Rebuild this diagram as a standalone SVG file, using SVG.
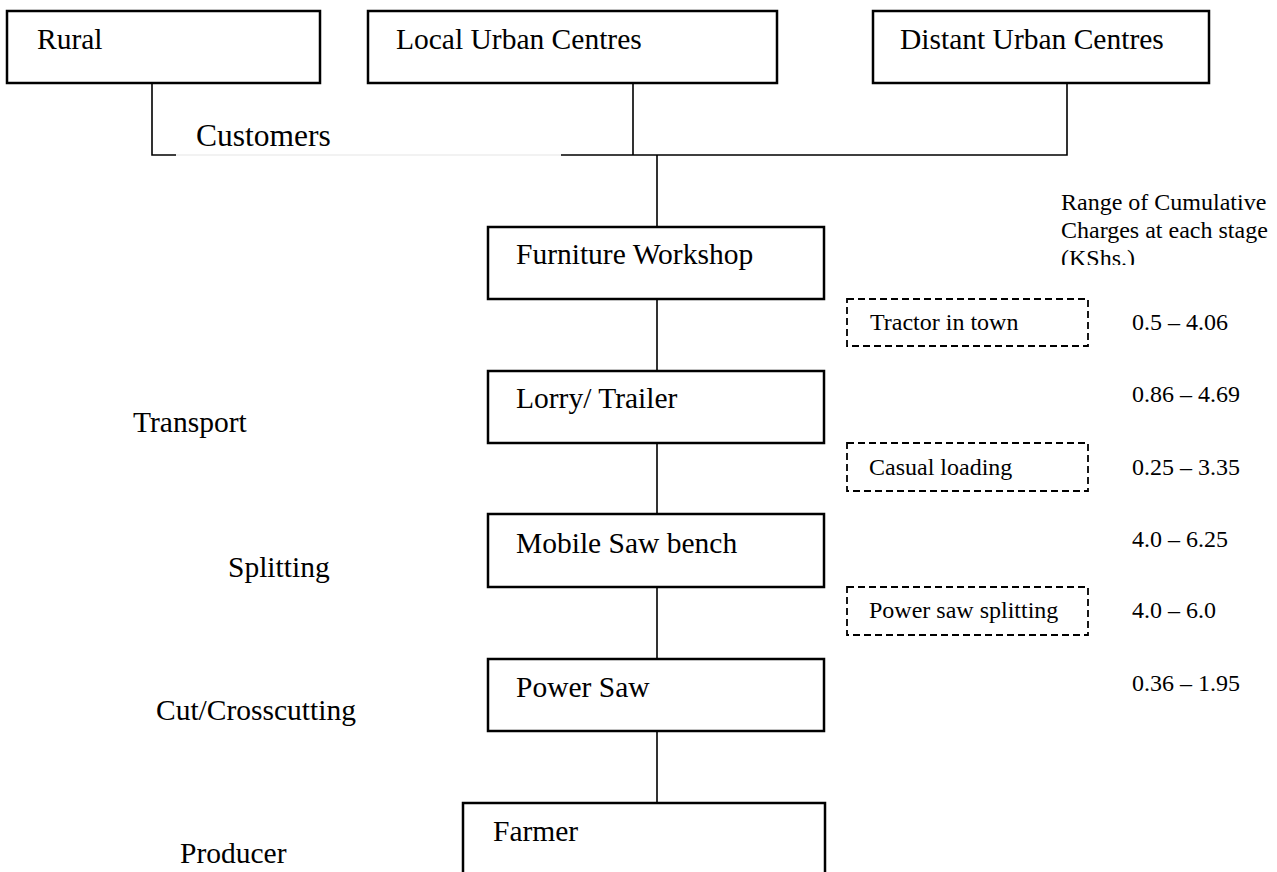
<svg xmlns="http://www.w3.org/2000/svg" width="1277" height="872" viewBox="0 0 1277 872">
<style>
.box{fill:#fff;stroke:#000;stroke-width:2.5}
.dash{fill:none;stroke:#000;stroke-width:1.8;stroke-dasharray:7 4}
.ln{stroke:#000;stroke-width:1.6;fill:none}
.t{font-family:"Liberation Serif","Times New Roman",serif;font-size:29.5px;fill:#000}
.s{font-family:"Liberation Serif","Times New Roman",serif;font-size:24px;fill:#000}
</style>
<defs><clipPath id="rc"><rect x="1050" y="185" width="227" height="80"/></clipPath></defs>
<rect width="1277" height="872" fill="#fff"/>
<g id="connectors">
<path class="ln" d="M152 83V155H176"/>
<path d="M176 155H561" stroke="#e6e6e6" stroke-width="1.2"/>
<path class="ln" d="M561 155H1067V83M633 83V155M657 155V227M657 299V371M657 443V514M657 587V659M657 731V803"/>
</g>
<g id="rural"><rect class="box" x="7" y="11" width="313" height="72"/><text class="t" x="37" y="49">Rural</text></g>
<g id="local"><rect class="box" x="368" y="11" width="409" height="72"/><text class="t" x="396" y="49">Local Urban Centres</text></g>
<g id="distant"><rect class="box" x="873" y="11" width="336" height="72"/><text class="t" x="900" y="49">Distant Urban Centres</text></g>
<g id="customers"><text class="t" x="196" y="146" style="font-size:31.5px">Customers</text></g>
<g id="furniture"><rect class="box" x="488" y="227" width="336" height="72"/><text class="t" x="516" y="264">Furniture Workshop</text></g>
<g id="lorry"><rect class="box" x="488" y="371" width="336" height="72"/><text class="t" x="516" y="408">Lorry/ Trailer</text></g>
<g id="mobile"><rect class="box" x="488" y="514" width="336" height="73"/><text class="t" x="516" y="553">Mobile Saw bench</text></g>
<g id="powersaw"><rect class="box" x="488" y="659" width="336" height="72"/><text class="t" x="516" y="697">Power Saw</text></g>
<g id="farmer"><rect class="box" x="463" y="803" width="362" height="90"/><text class="t" x="493" y="841">Farmer</text></g>
<g id="tractor"><rect class="dash" x="847" y="299" width="241" height="47"/><text class="s" x="870" y="330">Tractor in town</text></g>
<g id="casual"><rect class="dash" x="847" y="443" width="241" height="48"/><text class="s" x="869" y="475">Casual loading</text></g>
<g id="pss"><rect class="dash" x="847" y="587" width="241" height="48"/><text class="s" x="869" y="618">Power saw splitting</text></g>
<g id="stages">
<text class="t" x="133" y="432">Transport</text>
<text class="t" x="228" y="577">Splitting</text>
<text class="t" x="156" y="720">Cut/Crosscutting</text>
<text class="t" x="180" y="863">Producer</text>
</g>
<g id="charges">
<g clip-path="url(#rc)">
<text class="s" x="1061" y="210">Range of Cumulative</text>
<text class="s" x="1061" y="238">Charges at each stage</text>
<text class="s" x="1061" y="266">(KShs.)</text>
</g>
<text class="s" x="1132" y="330">0.5 – 4.06</text>
<text class="s" x="1132" y="402">0.86 – 4.69</text>
<text class="s" x="1132" y="475">0.25 – 3.35</text>
<text class="s" x="1132" y="547">4.0 – 6.25</text>
<text class="s" x="1132" y="618">4.0 – 6.0</text>
<text class="s" x="1132" y="691">0.36 – 1.95</text>
</g>
</svg>
